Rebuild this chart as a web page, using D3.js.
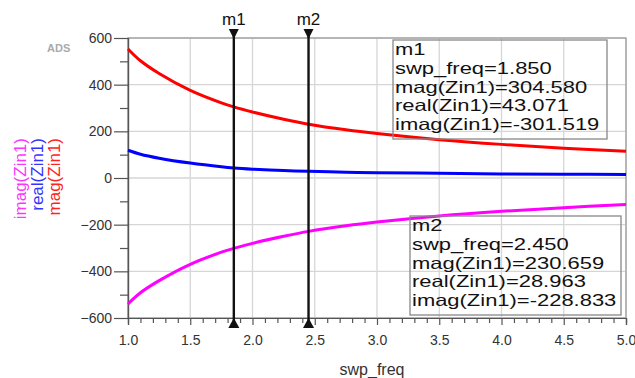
<!DOCTYPE html>
<html>
<head>
<meta charset="utf-8">
<script src="https://cdn.jsdelivr.net/npm/d3@7"></script>
<style>
  body { margin: 0; background: #fff; }
  svg { font-family: "Liberation Sans", Arial, sans-serif; }
</style>
</head>
<body>
<div id="chart"></div>
<script>
// values
var freq    = [1.0, 1.1, 1.25, 1.5, 1.75, 1.85, 2.0, 2.25, 2.45, 2.75, 3.0, 3.5, 4.0, 4.5, 5.0];
var magZin  = [553, 502.5, 448, 375.5, 322, 304.580, 283, 252, 230.659, 206.5, 190.4, 164.2, 144.1, 128, 115];
var realZin = [119, 102, 85, 64, 48, 43.071, 38, 32, 28.963, 25, 23, 20, 17.5, 16, 15];
var imagZin = [-540, -492, -440, -370, -318, -301.519, -280, -250, -228.833, -205, -189, -163, -143, -127, -114];

var xTicks = [1.0, 1.5, 2.0, 2.5, 3.0, 3.5, 4.0, 4.5, 5.0];
var yTicks = [600, 400, 200, 0, -200, -400, -600];

var markers = [
    { name: "m1", freq: 1.850, mag: "304.580", real: "43.071", imag: "-301.519" },
    { name: "m2", freq: 2.450, mag: "230.659", real: "28.963", imag: "-228.833" }
];

var width = 635, height = 378;
var plotL = 128, plotR = 626, plotT = 38, plotB = 318;

var svg = d3.select("#chart").append("svg")
    .attr("width", width)
    .attr("height", height);

var x = d3.scaleLinear().domain([1, 5]).range([plotL, plotR]);
var y = d3.scaleLinear().domain([-600, 600]).range([plotB, plotT]);

// grid
svg.append("g").selectAll("line.vg")
    .data(xTicks)
    .enter().append("line")
    .attr("x1", d => x(d)).attr("x2", d => x(d))
    .attr("y1", plotT).attr("y2", plotB)
    .style("stroke", "#d6d6d6").style("stroke-width", 1.3);

svg.append("g").selectAll("line.hg")
    .data(yTicks)
    .enter().append("line")
    .attr("x1", plotL).attr("x2", plotR)
    .attr("y1", d => y(d)).attr("y2", d => y(d))
    .style("stroke", "#d6d6d6").style("stroke-width", 1.3);

// frame
svg.append("rect")
    .attr("x", plotL).attr("y", plotT)
    .attr("width", plotR - plotL).attr("height", plotB - plotT)
    .style("fill", "none").style("stroke", "#999").style("stroke-width", 1.2);

// y axis
var yAxis = d3.axisLeft(y).tickValues(yTicks).tickSize(14).tickPadding(2);
var gy = svg.append("g").attr("transform", "translate(" + plotL + ",0)").call(yAxis);
gy.selectAll("text").style("font-size", "14px").style("fill", "#333");
gy.selectAll("line, path").style("stroke", "#555").style("stroke-width", 1.2);

var yMinor = d3.axisLeft(y).tickValues(d3.range(-500, 600, 200)).tickSize(8).tickFormat("");
svg.append("g").attr("transform", "translate(" + plotL + ",0)").call(yMinor)
    .selectAll("line, path").style("stroke", "#555").style("stroke-width", 1.2);

// x axis
var xAxis = d3.axisBottom(x).tickValues(xTicks).tickSize(7).tickPadding(10).tickFormat(d3.format(".1f"));
var gx = svg.append("g").attr("transform", "translate(0," + plotB + ")").call(xAxis);
gx.selectAll("text").style("font-size", "14px").style("fill", "#333");
gx.selectAll("line, path").style("stroke", "#555").style("stroke-width", 1.2);

var xMinor = d3.axisBottom(x).tickValues(d3.range(1.1, 5, 0.1).filter(v => Math.abs(v * 2 - Math.round(v * 2)) > 0.01)).tickSize(5).tickFormat("");
svg.append("g").attr("transform", "translate(0," + plotB + ")").call(xMinor)
    .selectAll("line, path").style("stroke", "#555").style("stroke-width", 1.2);

// curves
var series = [
    { vals: magZin,  color: "#ff0000" },
    { vals: realZin, color: "#0000ff" },
    { vals: imagZin, color: "#ff00ff" }
];
var line = d3.line().curve(d3.curveCatmullRom.alpha(0.5));
series.forEach(function (s) {
    svg.append("path")
        .attr("d", line(freq.map((f, i) => [x(f), y(s.vals[i])])))
        .style("fill", "none")
        .style("stroke", s.color)
        .style("stroke-width", 3);
});

// markers
markers.forEach(function (m) {
    var mx = x(m.freq);
    svg.append("line")
        .attr("x1", mx).attr("x2", mx)
        .attr("y1", 32).attr("y2", plotB + 4)
        .style("stroke", "#111").style("stroke-width", 2.4);
    svg.append("path")
        .attr("d", "M" + (mx - 5) + ",29 L" + (mx + 5) + ",29 L" + mx + ",39 Z")
        .style("fill", "#111");
    svg.append("path")
        .attr("d", "M" + (mx - 5.5) + "," + (plotB + 10) + " L" + (mx + 5.5) + "," + (plotB + 10) + " L" + mx + "," + plotB + " Z")
        .style("fill", "#111");
    svg.append("text")
        .attr("x", mx).attr("y", 25)
        .attr("text-anchor", "middle")
        .style("font-size", "17px").style("fill", "#111")
        .text(m.name);
});

// marker readout boxes
var boxes = [
    { x: 393, y: 40, w: 214, h: 99, tx: 395, ty: 55 },
    { x: 410, y: 216, w: 211, h: 99, tx: 412, ty: 231 }
];
markers.forEach(function (m, i) {
    var b = boxes[i];
    svg.append("rect")
        .attr("x", b.x).attr("y", b.y).attr("width", b.w).attr("height", b.h)
        .style("fill", "none").style("stroke", "#888").style("stroke-width", 1.3);
    var lines = [m.name, "swp_freq=" + m.freq.toFixed(3), "mag(Zin1)=" + m.mag,
                 "real(Zin1)=" + m.real, "imag(Zin1)=" + m.imag];
    lines.forEach(function (t, j) {
        var el = svg.append("text")
            .attr("x", b.tx).attr("y", b.ty + j * 18.8)
            .style("font-size", "16.5px").style("fill", "#111")
            .text(t);
        var len = el.node().getComputedTextLength();
        el.attr("textLength", len * 1.33).attr("lengthAdjust", "spacingAndGlyphs");
    });
});

// axis titles
svg.append("text")
    .attr("x", 372).attr("y", 375)
    .attr("text-anchor", "middle")
    .style("font-size", "16px").style("fill", "#333")
    .text("swp_freq");

svg.append("text")
    .attr("x", 47).attr("y", 52)
    .style("font-size", "11px").style("font-weight", "bold").style("fill", "#aaa")
    .text("ADS");

var yLabels = [
    { t: "imag(Zin1)", c: "#ff33ff", x: 26 },
    { t: "real(Zin1)", c: "#3333ff", x: 43 },
    { t: "mag(Zin1)",  c: "#ff2222", x: 60 }
];
yLabels.forEach(function (l) {
    svg.append("text")
        .attr("transform", "translate(" + l.x + ",138) rotate(-90)")
        .attr("text-anchor", "end")
        .style("font-size", "17px").style("fill", l.c)
        .text(l.t);
});
</script>
</body>
</html>
